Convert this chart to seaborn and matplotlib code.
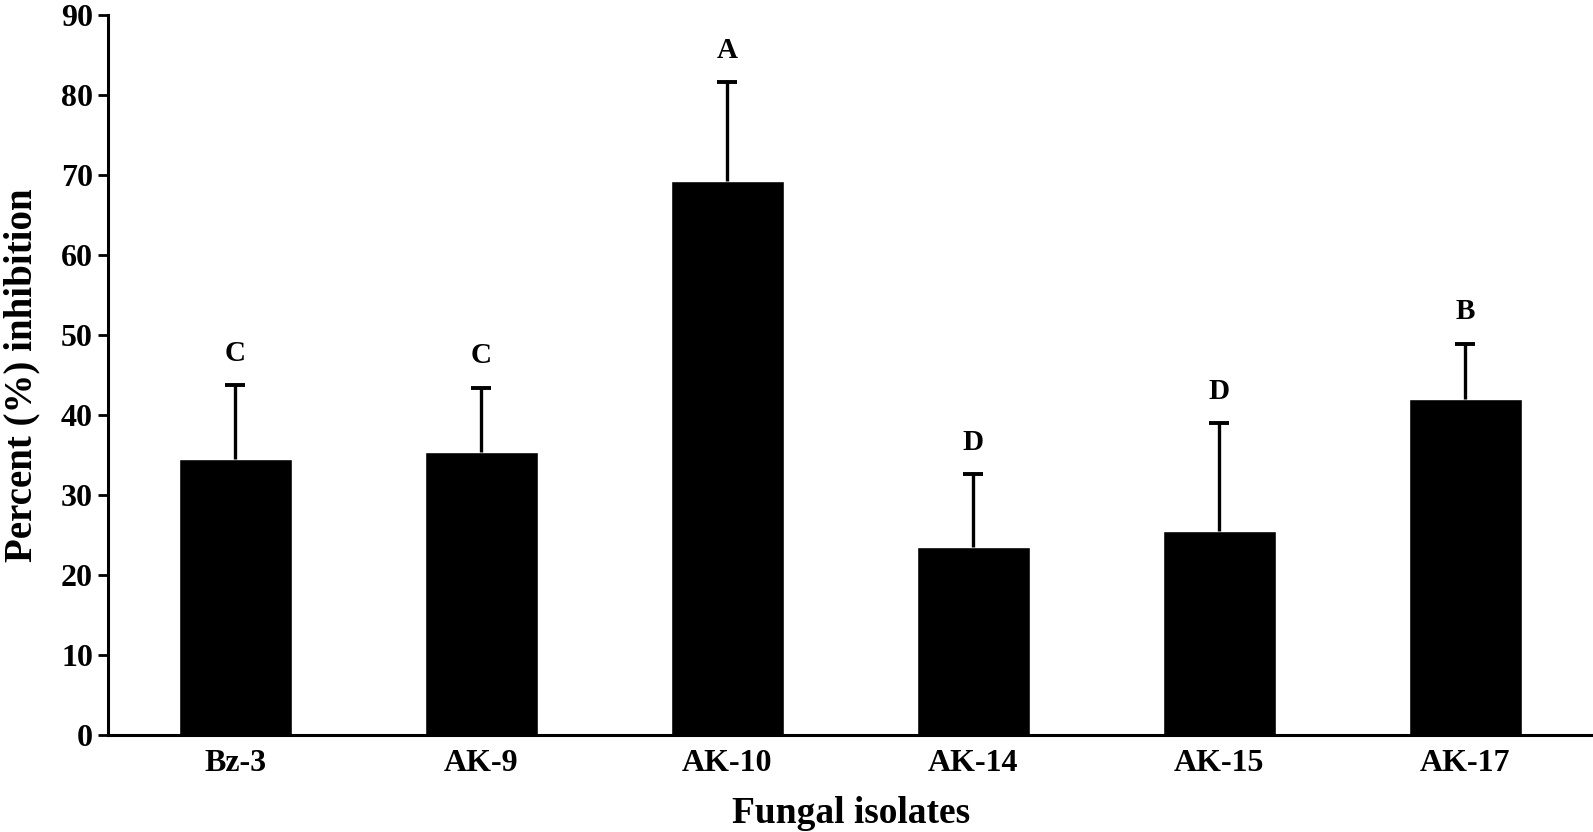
import numpy as np
import pandas as pd
import matplotlib
matplotlib.use("Agg")
import matplotlib.pyplot as plt
import seaborn as sns

# values
isolates = ["Bz-3", "AK-9", "AK-10", "AK-14", "AK-15", "AK-17"]
inhibition = [34.5, 35.4, 69.2, 23.5, 25.5, 42.0]
err_up = [9.2, 8.0, 12.4, 9.1, 13.5, 6.9]
groups = ["C", "C", "A", "D", "D", "B"]

sns.set_style("ticks")
plt.rcParams['font.family'] = ['Liberation Serif', 'DejaVu Serif']
plt.rcParams['font.weight'] = 'bold'
plt.rcParams['text.color'] = 'black'
plt.rcParams['axes.labelcolor'] = 'black'
plt.rcParams['xtick.color'] = 'black'
plt.rcParams['ytick.color'] = 'black'
plt.rcParams['axes.edgecolor'] = 'black'

df = pd.DataFrame({"isolate": isolates, "inhibition": inhibition})

fig = plt.figure(figsize=(15.93, 8.32), dpi=100)
ax = fig.add_axes([0.068, 0.1166, 0.932, 0.8654])

sns.barplot(data=df, x="isolate", y="inhibition", color="black",
            width=0.46, errorbar=None, saturation=1, ax=ax)

# upper-only error bars with a cap at the top end
xs = np.arange(len(isolates))
tops = np.array(inhibition) + np.array(err_up)
ax.vlines(xs, inhibition, tops, colors="black", linewidth=2.4)
ax.plot(xs, tops, linestyle="none", marker="_", markersize=14,
        markeredgewidth=2.8, color="black")

# significance letters above the error bars
for x, t, g in zip(xs, tops, groups):
    ax.text(x, t + 2.3, g, ha="center", va="bottom",
            fontsize=21, fontweight="bold")

ax.set_xlim(-0.516, 5.52)
ax.set_ylim(0, 90)
ax.set_yticks(range(0, 91, 10))

ax.set_xlabel("Fungal isolates", fontsize=27, fontweight="bold", labelpad=13)
ax.set_ylabel("Percent (%) inhibition", fontsize=28, fontweight="bold")
ax.yaxis.set_label_coords(-0.0455, 0.5)

ax.tick_params(axis="y", length=7, width=2, labelsize=23, pad=4)
ax.tick_params(axis="x", length=0, labelsize=23, pad=10)
for lab in ax.get_xticklabels() + ax.get_yticklabels():
    lab.set_fontweight("bold")

for s in ["left", "bottom"]:
    ax.spines[s].set_linewidth(2.2)
sns.despine(ax=ax)

fig.savefig("out.png", dpi=100)
